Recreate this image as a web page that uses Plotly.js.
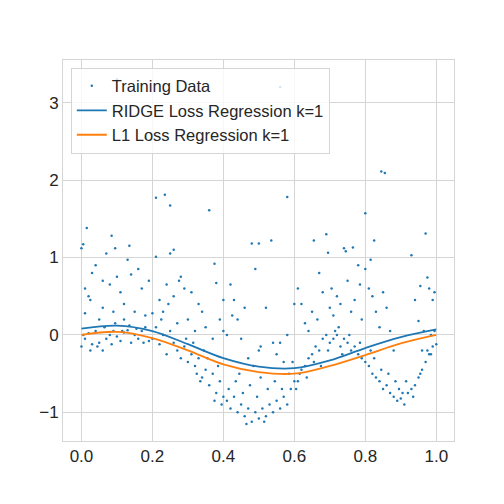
<!DOCTYPE html>
<html>
<head>
<meta charset="utf-8">
<script src="https://cdn.plot.ly/plotly-3.0.1.min.js"></script>
<style>html,body{margin:0;padding:0;background:#fff}#chart{width:504px;height:504px}</style>
</head>
<body>
<div id="chart"></div>
<script>
// training points [x, y]
const trainPoints = [
  [0.00,-0.15],[0.01,-0.05],[0.02,0.02],[0.03,-0.12],[0.04,0.05],[0.05,-0.1],[0.06,-0.2],[0.07,-0.05],[0.08,0.0],[0.09,0.05],
  [0.10,-0.02],[0.11,-0.08],[0.12,0.03],[0.13,0.06],[0.14,-0.1],[0.15,0.0],[0.16,-0.05],[0.17,0.05],[0.18,0.1],[0.19,-0.08],
  [0.005,0.0],[0.025,-0.2],[0.045,-0.15],[0.065,0.1],[0.085,-0.12],[0.095,0.15],[0.115,0.05],[0.135,0.12],[0.155,0.08],[0.175,-0.1],
  [0.0,1.12],[0.005,1.17],[0.01,0.6],[0.015,1.38],[0.02,0.5],[0.025,0.45],[0.03,0.8],[0.04,0.9],[0.05,0.2],[0.06,0.35],
  [0.07,1.05],[0.08,0.65],[0.085,1.28],[0.09,0.3],[0.095,1.12],[0.1,0.75],[0.11,0.55],[0.12,0.4],[0.13,0.97],[0.135,1.15],
  [0.14,0.78],[0.15,0.3],[0.16,0.85],[0.17,0.6],[0.18,0.25],[0.19,0.7],[0.2,0.28],[0.01,0.28],[0.06,0.7],[0.12,0.2],
  [0.2,-0.05],[0.21,0.1],[0.22,-0.12],[0.23,0.0],[0.24,-0.25],[0.25,0.05],[0.26,-0.1],[0.27,-0.2],[0.28,-0.3],[0.29,-0.15],
  [0.30,-0.35],[0.31,-0.25],[0.32,-0.4],[0.33,-0.3],[0.34,-0.55],[0.35,-0.45],[0.36,-0.65],[0.37,-0.5],[0.38,-0.75],[0.39,-0.6],
  [0.40,-0.8],[0.345,-0.2],[0.325,-0.5],[0.385,-0.4],[0.295,-0.05],[0.315,-0.1],[0.335,-0.6],[0.355,-0.3],[0.375,-0.85],[0.395,-0.9],
  [0.21,1.77],[0.235,1.81],[0.25,1.67],[0.21,1.01],[0.25,1.05],[0.26,1.1],[0.22,0.45],[0.23,0.3],[0.24,0.65],[0.26,0.5],
  [0.27,0.15],[0.28,0.75],[0.29,0.6],[0.30,0.2],[0.31,0.55],[0.32,0.05],[0.33,0.4],[0.34,0.3],[0.36,1.61],[0.375,0.92],
  [0.38,0.67],[0.39,0.2],[0.35,0.1],[0.37,-0.05],[0.40,0.05],[0.275,0.7],[0.225,0.2],[0.245,0.4],
  [0.41,-0.85],[0.42,-0.95],[0.43,-0.8],[0.44,-1.0],[0.45,-0.9],[0.46,-1.05],[0.47,-0.95],[0.48,-1.12],[0.49,-1.0],[0.50,-1.08],
  [0.51,-0.95],[0.52,-1.05],[0.53,-0.9],[0.54,-1.0],[0.55,-0.85],[0.56,-0.95],[0.57,-0.8],[0.58,-0.9],[0.59,-0.7],[0.60,-0.6],
  [0.415,-0.7],[0.435,-0.6],[0.455,-0.75],[0.475,-0.65],[0.495,-0.8],[0.505,-0.55],[0.525,-0.7],[0.545,-0.6],[0.565,-0.7],[0.585,-0.5],
  [0.595,-0.35],[0.465,-1.15],[0.515,-1.12],[0.445,-0.5],[0.485,-0.4],
  [0.48,1.18],[0.49,0.85],[0.50,1.18],[0.535,1.22],[0.58,1.78],[0.42,0.65],[0.425,0.25],[0.44,0.2],[0.43,0.45],[0.45,-0.05],
  [0.46,0.35],[0.41,0.0],[0.5,-0.2],[0.505,-0.15],[0.52,0.35],[0.54,-0.1],[0.55,-0.25],[0.57,-0.35],[0.58,0.0],[0.6,0.4],
  [0.61,0.6],[0.47,-0.3],[0.56,-0.1],[0.4,0.45],
  [0.61,-0.6],[0.62,-0.45],[0.63,-0.4],[0.64,-0.3],[0.65,-0.25],[0.66,-0.15],[0.67,-0.2],[0.68,-0.05],[0.69,0.0],[0.70,-0.1],
  [0.71,-0.05],[0.72,0.0],[0.73,-0.15],[0.74,-0.05],[0.75,-0.1],[0.76,-0.2],[0.77,-0.15],[0.78,-0.25],[0.79,-0.3],[0.80,-0.35],
  [0.615,-0.5],[0.635,-0.55],[0.655,-0.35],[0.675,-0.4],[0.695,-0.2],[0.715,0.05],[0.735,-0.25],[0.755,0.0],[0.785,-0.1],[0.605,-0.7],
  [0.63,0.15],[0.64,0.05],[0.65,0.3],[0.655,1.22],[0.67,0.8],[0.68,0.55],[0.69,1.3],[0.695,1.06],[0.70,0.35],[0.71,0.25],
  [0.72,0.5],[0.73,0.4],[0.74,1.12],[0.745,1.08],[0.75,0.7],[0.76,0.3],[0.765,1.13],[0.77,0.45],[0.78,0.9],[0.785,0.65],
  [0.79,0.2],[0.665,0.2],[0.705,0.6],[0.725,0.1],[0.62,0.4],
  [0.81,-0.4],[0.82,-0.5],[0.83,-0.55],[0.84,-0.6],[0.85,-0.7],[0.86,-0.65],[0.87,-0.75],[0.88,-0.8],[0.89,-0.85],[0.90,-0.82],
  [0.91,-0.9],[0.92,-0.75],[0.93,-0.7],[0.94,-0.65],[0.95,-0.55],[0.96,-0.45],[0.97,-0.35],[0.98,-0.25],[0.99,-0.15],[1.0,-0.12],
  [0.815,-0.2],[0.825,-0.3],[0.845,-0.45],[0.865,-0.5],[0.885,-0.6],[0.895,-0.7],[0.905,-0.75],[0.915,-0.6],[0.935,-0.8],[0.955,-0.5],
  [0.975,-0.2],[0.985,0.0],[0.995,0.05],
  [0.8,1.57],[0.845,2.11],[0.855,2.09],[0.825,1.22],[0.815,0.97],[0.8,0.85],[0.81,0.6],[0.82,0.5],[0.83,0.3],[0.84,0.1],
  [0.86,0.35],[0.87,0.05],[0.88,-0.2],[0.93,1.03],[0.94,0.45],[0.95,0.18],[0.955,0.63],[0.96,-0.2],[0.97,1.31],[0.975,0.74],
  [0.98,0.6],[0.99,0.45],[0.995,0.55],[0.965,0.05],[0.85,0.55],[0.985,-0.25],
  [0.1,3.3],[0.56,3.2],[0.18,2.55]
];

const curveX = [0, 0.1, 0.2, 0.3, 0.4, 0.5, 0.6, 0.7, 0.8, 0.9, 1.0];
const ridgeY = [0.08, 0.12, 0.05, -0.12, -0.3, -0.41, -0.43, -0.33, -0.17, -0.03, 0.07];
const l1Y    = [0.0, 0.04, -0.04, -0.2, -0.38, -0.48, -0.5, -0.4, -0.26, -0.11, 0.0];

const xTicks = [0, 0.2, 0.4, 0.6, 0.8, 1.0];
const yTicks = [-1, 0, 1, 2, 3];

const traces = [
  {
    x: trainPoints.map(p => p[0]),
    y: trainPoints.map(p => p[1]),
    type: 'scatter', mode: 'markers', name: 'Training Data',
    marker: { color: '#1f77b4', size: 2.5 }
  },
  {
    x: curveX, y: ridgeY, type: 'scatter', mode: 'lines',
    name: 'RIDGE Loss Regression k=1',
    line: { color: '#1f77b4', width: 1.8, shape: 'spline' }
  },
  {
    x: curveX, y: l1Y, type: 'scatter', mode: 'lines',
    name: 'L1 Loss Regression k=1',
    line: { color: '#ff7f0e', width: 1.8, shape: 'spline' }
  }
];

const axisStyle = {
  showgrid: true, gridcolor: '#d5d5d5', gridwidth: 1,
  zeroline: false, showline: true, mirror: true, linecolor: '#d5d5d5',
  ticks: '', tickfont: { size: 17, color: '#262626', family: 'Liberation Sans, Arial' }
};

const layout = {
  width: 504, height: 504,
  paper_bgcolor: '#fff', plot_bgcolor: '#fff',
  margin: { l: 63, r: 50, t: 60, b: 63 },
  showlegend: true,
  legend: {
    x: 0.02, y: 0.98, xanchor: 'left', yanchor: 'top',
    bgcolor: 'rgba(255,255,255,0.8)', bordercolor: '#d5d5d5', borderwidth: 1,
    font: { size: 16.5, color: '#262626', family: 'Liberation Sans, Arial' },
    tracegroupgap: 0
  },
  xaxis: Object.assign({}, axisStyle, { range: [-0.052, 1.05], tickvals: xTicks, ticktext: xTicks.map(v => v.toFixed(1)) }),
  yaxis: Object.assign({}, axisStyle, { range: [-1.37, 3.55], tickvals: yTicks, ticktext: yTicks.map(v => v < 0 ? '\u2212' + Math.abs(v) : String(v)) })
};

Plotly.newPlot('chart', traces, layout, { displayModeBar: false });
</script>
</body>
</html>
